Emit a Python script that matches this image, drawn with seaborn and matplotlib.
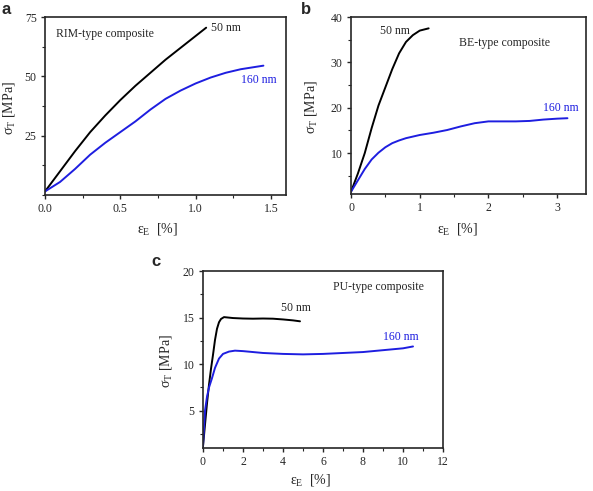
import numpy as np
import pandas as pd
import seaborn as sns
import matplotlib
matplotlib.use("Agg")
import matplotlib.pyplot as plt
from matplotlib.ticker import MultipleLocator

# ---- data ----
a_x50 = [0, 0.1, 0.2, 0.3, 0.4, 0.5, 0.6, 0.7, 0.8, 0.9, 1.0, 1.07]
a_y50 = [1.5, 10, 18.5, 26.5, 33.5, 40, 46, 51.5, 57, 62, 67, 70.5]
a_x160 = [0, 0.1, 0.2, 0.3, 0.4, 0.5, 0.6, 0.7, 0.8, 0.9, 1.0, 1.1, 1.2, 1.3, 1.45]
a_y160 = [1.5, 5.5, 11, 17, 22, 26.5, 31, 36, 40.5, 44, 47, 49.5, 51.5, 53, 54.5]

b_x50 = [0, 0.1, 0.2, 0.3, 0.4, 0.5, 0.6, 0.7, 0.8, 0.9, 1.0, 1.13]
b_y50 = [1.5, 5.5, 10, 15.5, 20.5, 24.5, 28.5, 32, 34.5, 36, 37, 37.5]
b_x160 = [0, 0.1, 0.2, 0.3, 0.4, 0.5, 0.6, 0.7, 0.8, 1.0, 1.2, 1.4, 1.6, 1.8,
          2.0, 2.2, 2.4, 2.6, 2.8, 3.0, 3.15]
b_y160 = [1.5, 4, 6.5, 8.6, 10.1, 11.3, 12.2, 12.8, 13.3, 14, 14.5, 15.1, 15.9, 16.6,
          17, 17, 17, 17.1, 17.4, 17.6, 17.7]

c_x50 = [0, 0.1, 0.2, 0.3, 0.4, 0.5, 0.6, 0.7, 0.8, 0.9, 1.05, 1.5, 2, 2.5, 3, 3.5, 4, 4.5, 4.85]
c_y50 = [1.2, 3.5, 5.8, 7.8, 9.5, 11, 12.6, 13.8, 14.5, 14.85, 15.05, 14.95, 14.9, 14.88,
         14.9, 14.88, 14.8, 14.7, 14.6]
c_x160 = [0, 0.1, 0.2, 0.3, 0.45, 0.6, 0.8, 1.0, 1.3, 1.6, 2, 3, 4, 5, 6, 7, 8, 9, 10, 10.5]
c_y160 = [1.2, 5, 6.5, 7.5, 8.5, 9.6, 10.6, 11.1, 11.35, 11.45, 11.4, 11.2, 11.1, 11.05,
          11.1, 11.2, 11.3, 11.5, 11.7, 11.9]

a_xticks = [0.0, 0.5, 1.0, 1.5]
a_yticks = [25, 50, 75]
b_xticks = [0, 1, 2, 3]
b_yticks = [10, 20, 30, 40]
c_xticks = [0, 2, 4, 6, 8, 10, 12]
c_yticks = [5, 10, 15, 20]

BLACK = "#000000"
BLUE = "#1e1ee0"

sns.set_style("ticks")
plt.rcParams["font.family"] = ["Liberation Serif", "DejaVu Serif"]
plt.rcParams["mathtext.fontset"] = "custom"
plt.rcParams["mathtext.rm"] = "Liberation Serif"
plt.rcParams["mathtext.it"] = "Liberation Serif:italic"
plt.rcParams["axes.linewidth"] = 1.2

fig = plt.figure(figsize=(5.93, 4.91), dpi=100)
W, H = 593, 491


def add_ax(l, t, r, b):
    return fig.add_axes([l / W, 1 - b / H, (r - l) / W, (b - t) / H])


def curve(ax, x, y, color):
    df = pd.DataFrame({"x": x, "y": y})
    sns.lineplot(data=df, x="x", y="y", ax=ax, color=color, lw=1.4,
                 sort=False, estimator=None)


def style(ax, xlim, ylim, xticks, yticks, xminor, yminor, xfmt, xlc, ylc):
    ax.set_xlim(*xlim)
    ax.set_ylim(*ylim)
    ax.set_xticks(xticks)
    ax.set_xticklabels([xfmt.format(v) for v in xticks])
    ax.set_yticks(yticks)
    ax.xaxis.set_minor_locator(MultipleLocator(xminor))
    ax.yaxis.set_minor_locator(MultipleLocator(yminor))
    ax.tick_params(which="major", direction="out", length=3, width=1.0,
                   labelsize=8.5, pad=3)
    ax.tick_params(which="minor", direction="out", length=2, width=0.8)
    ax.set_xlabel(r"$\mathregular{\epsilon_E}$  [%]", fontsize=10)
    ax.set_ylabel(r"$\mathregular{\sigma_T}$ [MPa]", fontsize=10)
    ax.xaxis.set_label_coords(*xlc)
    ax.yaxis.set_label_coords(*ylc)
    ax.xaxis.label.set_va("center")
    ax.yaxis.label.set_va("center")
    for s in ax.spines.values():
        s.set_visible(True)
        s.set_linewidth(1.2)


# panel a
axa = add_ax(45, 17, 286, 195)
curve(axa, a_x50, a_y50, BLACK)
curve(axa, a_x160, a_y160, BLUE)
style(axa, (0, 1.6), (0, 75), a_xticks, a_yticks, 0.25, 12.5, "{:.1f}",
      (0.465, -0.19), (-0.15, 0.49))
axa.text(0.07, 68, "RIM-type composite", fontsize=8.5, va="center")
axa.text(1.1, 70.3, "50 nm", fontsize=8.5, va="center")
axa.text(1.3, 48.5, "160 nm", fontsize=8.5, va="center", color=BLUE)

# panel b
axb = add_ax(351, 17, 586, 194)
curve(axb, b_x50, b_y50, BLACK)
curve(axb, b_x160, b_y160, BLUE)
style(axb, (0, 3.42), (1, 40), b_xticks, b_yticks, 0.5, 5, "{:d}",
      (0.455, -0.198), (-0.17, 0.49))
axb.text(0.42, 37.0, "50 nm", fontsize=8.5, va="center")
axb.text(1.57, 34.2, "BE-type composite", fontsize=8.5, va="center")
axb.text(2.8, 19.9, "160 nm", fontsize=8.5, va="center", color=BLUE)

# panel c
axc = add_ax(203, 271, 443, 448)
curve(axc, c_x50, c_y50, BLACK)
curve(axc, c_x160, c_y160, BLUE)
style(axc, (0, 12), (1, 20), c_xticks, c_yticks, 1, 2.5, "{:d}",
      (0.446, -0.178), (-0.154, 0.49))
axc.text(6.5, 18.3, "PU-type composite", fontsize=8.5, va="center")
axc.text(3.9, 16.0, "50 nm", fontsize=8.5, va="center")
axc.text(9.0, 12.9, "160 nm", fontsize=8.5, va="center", color=BLUE)

# panel letters
for lbl, px, py in [("a", 2, 10), ("b", 301, 10), ("c", 151, 262)]:
    fig.text(px / W, 1 - py / H, lbl, fontsize=12, fontweight="bold",
             family=["Liberation Sans", "DejaVu Sans"], va="center", ha="left")

fig.savefig("out.png", dpi=100)
